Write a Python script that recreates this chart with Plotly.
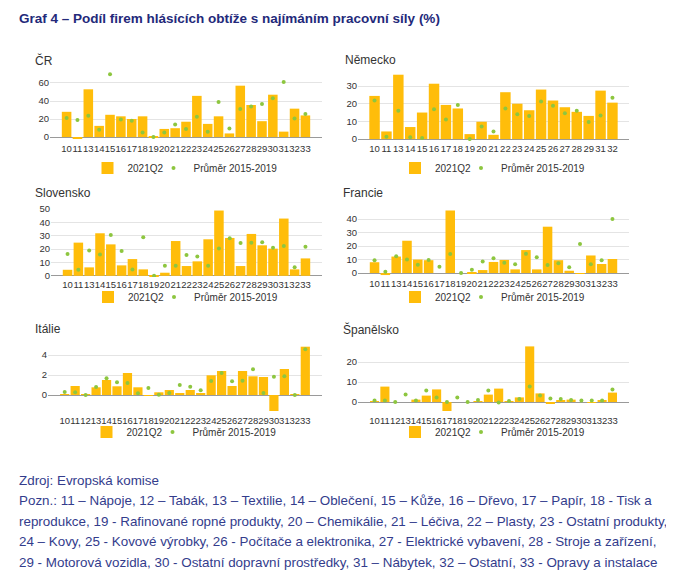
import plotly.graph_objects as go

# page is rendered with the default 8px body margin -> compensate
OFF = 8
W, H = 674 - OFF, 579 - OFF

cats_std = ['10','11','13','14','15','16','17','18','19','20','21','22','23','24','25','26','27','28','29','30','31','32','33']
cats_de = ['10','11','13','14','15','16','17','18','19','20','21','22','23','24','25','26','27','28','29','31','32']
cats_full = ['10','11','12','13','14','15','16','17','18','19','20','21','22','23','24','25','26','27','28','29','30','31','32','33']

cz_q2 = [28, -1.5, 53, 12.4, 24.7, 23, 20, 23, 0.3, 9, 9.8, 17, 45.7, 14.6, 23, 4, 57, 35.6, 17.6, 47, 6, 31.5, 24]
cz_avg = [21, 19, 23.6, 8, 69.7, 19.5, 18, 5, 0, 5, 14, 9, 22.5, 6, 39, 9.4, 31, 34, 36.7, 43, 61, 20.6, 25.5]

de_q2 = [24.4, 4.3, 36.4, 6.8, 15, 31.3, 19.3, 17.3, 2.8, 9.8, 2.4, 26.5, 20, 16.3, 28, 21.8, 18, 15.4, 13.1, 27.4, 20.6]
de_avg = [21.8, 1.3, 16, 1, 0.6, 16.9, 11, 19.3, 0, 7.1, 4.3, 17.3, 14, 13.1, 21.2, 18.8, 14.6, 16, 9.6, 13.3, 23.4]

sk_q2 = [4.5, 24.8, 6.3, 31.8, 23.5, 7.8, 12.5, 4.8, -0.4, 2.3, 26, 7.3, 10.8, 27.3, 48.8, 28.3, 7.3, 31.3, 22.8, 20.3, 42.8, 4.8, 13]
sk_avg = [16.3, 4.5, 19, 16, 30.5, 18.5, 4.8, 28.8, 0, 7.5, 7.5, 15.5, 14.5, 7.5, 20.5, 28, 24.5, 24.8, 25, 21, 22.3, 6.3, 21.8]

fr_q2 = [8, -1.5, 12.2, 23.9, 10, 9.5, 0, 46.3, 0, 0.3, 2.2, 8.2, 9.7, 2.7, 17, 2.7, 34.3, 9.5, 1.7, -0.4, 13, 6.7, 10.4]
fr_avg = [9.5, 1, 12.4, 10, 6.2, 9.7, 4.7, 14, 0, 2.5, 8.5, 11, 7.7, 6.5, 14.2, 11.7, 6, 7.2, 4.2, 21.4, 6.5, 9.5, 40]

it_q2 = [0.1, 0.9, 0.03, 0.77, 1.5, 0.87, 2.2, 0.77, -0.1, 0.27, 0.5, 0.17, 0.5, 0.2, 1.97, 2.4, 0.9, 2.4, 1.87, 1.8, -1.6, 2.6, 0.05, 4.83]
it_avg = [0.3, 0.27, 0, 0.8, 1.67, 1.27, 1.2, 0.17, 0.7, 0.03, 0.2, 1, 0.83, 0.47, 1.4, 2.2, 1.37, 1.43, 2.57, 0.2, 1.83, 1.87, 0, 4.57]

es_q2 = [0.3, 7.7, 0, 0, 1.2, 3.2, 6.3, -4.5, 0, 0, 0.2, 3.7, 6.7, 0.3, 2.3, 27.8, 4.3, -1, 0.8, 1.2, 0, -0.2, 0.8, 4.7]
es_avg = [0.7, 0.8, 0, 3.7, 0.8, 5.8, 2.3, 0, 2.2, 0, 1, 5.8, -0.2, 0.5, 1.5, 7.8, 3.2, 1.8, 1.5, 1, 0.7, 0.7, 0.7, 6.3]

panel_titles = ['ČR', 'Německo', 'Slovensko', 'Francie', 'Itálie', 'Španělsko']
series_names = ['2021Q2', 'Průměr 2015-2019']

main_title = 'Graf 4 – Podíl firem hlásících obtíže s najímáním pracovní síly (%)'
notes = [
    'Zdroj: Evropská komise',
    'Pozn.: 11 – Nápoje, 12 – Tabák, 13 – Textilie, 14 – Oblečení, 15 – Kůže, 16 – Dřevo, 17 – Papír, 18 - Tisk a',
    'reprodukce, 19 - Rafinované ropné produkty, 20 – Chemikálie, 21 – Léčiva, 22 – Plasty, 23 - Ostatní produkty,',
    '24 – Kovy, 25 - Kovové výrobky, 26 - Počítače a elektronika, 27 - Elektrické vybavení, 28 - Stroje a zařízení,',
    '29 - Motorová vozidla, 30 - Ostatní dopravní prostředky, 31 – Nábytek, 32 – Ostatní, 33 - Opravy a instalace',
]

panels = [
    (cats_std, cz_q2, cz_avg),
    (cats_de, de_q2, de_avg),
    (cats_std, sk_q2, sk_avg),
    (cats_std, fr_q2, fr_avg),
    (cats_full, it_q2, it_avg),
    (cats_full, es_q2, es_avg),
]


def px(p):
    return (p - OFF) / W


def py(p):
    return 1 - (p - OFF) / H


geo = [
    dict(x=(50, 322), y=(72, 141), r=[-4.4, 72.2], dt=20, t=(33, 60), ly=168),
    dict(x=(358, 629), y=(74, 141), r=[-1.1, 36.8], dt=10, t=(343, 60), ly=168),
    dict(x=(51, 322), y=(208, 277), r=[-0.9, 50.7], dt=10, t=(33, 193), ly=297),
    dict(x=(358, 629), y=(209, 276), r=[-2.2, 47.4], dt=10, t=(341, 193), ly=297),
    dict(x=(48, 322), y=(345, 413), r=[-1.8, 5.0], dt=2, t=(33, 329), ly=432),
    dict(x=(358, 629), y=(345, 413), r=[-5.5, 28.5], dt=10, t=(341, 329), ly=432),
]

BAR = '#FFBD0A'
DOT = '#8DC63F'
FONT = 'Arial, Liberation Sans, sans-serif'
SYM_OFF = 26  # legend left edge -> symbol centre

fig = go.Figure()
layout = dict(
    width=W, height=H, margin=dict(l=0, r=0, t=0, b=0, autoexpand=False),
    paper_bgcolor='white', plot_bgcolor='white',
    font=dict(family=FONT, size=10, color='#444'),
    bargap=0.12,
    annotations=[], showlegend=True,
)

for i, ((cats, q2, avg), g) in enumerate(zip(panels, geo)):
    n = '' if i == 0 else str(i + 1)
    xa, ya = 'x' + n, 'y' + n
    lgb = 'legend' if i == 0 else 'legend' + str(2 * i + 1)
    lgd = 'legend' + str(2 * i + 2)
    fig.add_trace(go.Bar(x=cats, y=q2, name=series_names[0], marker=dict(color=BAR, line=dict(width=0)),
                         xaxis=xa, yaxis=ya, legend=lgb))
    fig.add_trace(go.Scatter(x=cats, y=avg, name=series_names[1], mode='markers',
                             marker=dict(color=DOT, size=4), xaxis=xa, yaxis=ya, legend=lgd))
    layout['xaxis' + n] = dict(
        domain=[px(g['x'][0]), px(g['x'][1])], anchor=ya, type='category',
        tickmode='array', tickvals=cats, ticktext=cats, tickangle=0,
        tickfont=dict(size=9.5, color='#333'), showgrid=False, showline=False,
        ticks='', automargin=False,
    )
    layout['yaxis' + n] = dict(
        domain=[py(g['y'][1]), py(g['y'][0])], anchor=xa, range=g['r'],
        dtick=g['dt'], tick0=0, showgrid=True, gridcolor='#E4E4E4', gridwidth=1,
        zeroline=True, zerolinecolor='#9A9A9A', zerolinewidth=1,
        tickfont=dict(size=9.5, color='#333'), showline=False, ticks='', automargin=False,
    )
    cx = (g['x'][0] + g['x'][1]) / 2
    for lg, sym in ((lgb, cx - 72.5), (lgd, cx - 6.5)):
        layout[lg] = dict(
            orientation='h', x=px(sym - SYM_OFF), xanchor='left',
            y=py(g['ly']), yanchor='middle', font=dict(size=10, color='#333'),
            bgcolor='rgba(0,0,0,0)', itemwidth=30,
        )
    layout['annotations'].append(dict(
        text=panel_titles[i], x=px(g['t'][0]), y=py(g['t'][1]), xref='paper', yref='paper',
        xanchor='left', yanchor='middle', showarrow=False,
        font=dict(size=12, color='#333', family=FONT),
    ))

layout['annotations'].append(dict(
    text='<b>' + main_title + '</b>', x=px(17), y=py(19), xref='paper', yref='paper',
    xanchor='left', yanchor='middle', showarrow=False,
    font=dict(size=13.5, color='#23297A', family=FONT),
))

note_y = [480, 500, 521, 541, 562]
for t, yy in zip(notes, note_y):
    layout['annotations'].append(dict(
        text=t, x=px(17), y=py(yy), xref='paper', yref='paper',
        xanchor='left', yanchor='middle', showarrow=False,
        font=dict(size=13.4, color='#333C8C', family=FONT),
    ))

fig.update_layout(**layout)
fig.write_html('out.html')
